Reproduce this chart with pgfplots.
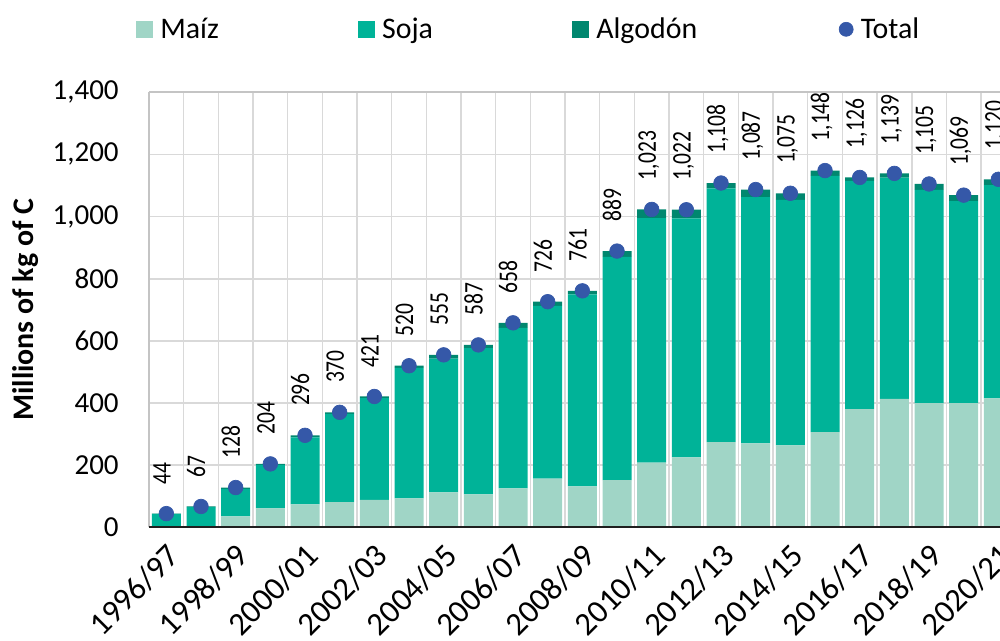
\documentclass[border=0pt]{standalone}
\usepackage{pgfplots}
\pgfplotsset{compat=1.18}
\usepackage{pgfplotstable}
\usepackage{fontspec}
\setmainfont{Carlito}
\definecolor{maiz}{HTML}{A0D5C6}
\definecolor{soja}{HTML}{00B398}
\definecolor{algodon}{HTML}{00876F}
\definecolor{totalc}{HTML}{3558A8}
\definecolor{gridc}{HTML}{D9D9D9}
\definecolor{framec}{HTML}{C4C4C4}

\pgfplotstableread{
x maiz soja algodon total
0 0 43 1 44
1 0 65 2 67
2 35 89 4 128
3 61 140 3 204
4 74 215 7 296
5 81 284 5 370
6 88 328 5 421
7 93 420 7 520
8 112 431 12 555
9 106 471 10 587
10 125 517 16 658
11 157 556 13 726
12 132 618 11 761
13 152 718 19 889
14 208 787 28 1023
15 225 769 28 1022
16 274 817 17 1108
17 270 793 24 1087
18 264 790 21 1075
19 306 825 17 1148
20 380 735 11 1126
21 413 712 14 1139
22 400 686 19 1105
23 400 650 19 1069
24 415 686 19 1120
}\datatable

\begin{document}
\begin{tikzpicture}
\begin{axis}[
  at={(2.98cm,2.274cm)}, anchor=south west,
  scale only axis, width=17.334cm, height=8.7cm,
  xmin=-0.5, xmax=24.5, ymin=0, ymax=1400,
  ybar stacked, bar width=0.58cm,
  axis lines=left,
  x axis line style={draw=none, -},
  y axis line style={color=framec, line width=0.054cm, -},
  ytick={0,200,...,1400},
  xtick={0,2,...,24},
  xticklabels={1996/97,1998/99,2000/01,2002/03,2004/05,2006/07,2008/09,2010/11,2012/13,2014/15,2016/17,2018/19,2020/21},
  minor xtick={0.5,1.5,...,23.5},
  xminorgrids=true, ymajorgrids=true, xmajorgrids=false,
  grid style={color=gridc, line width=0.032cm},
  minor grid style={color=gridc, line width=0.032cm},
  major tick length=0pt, minor tick length=0pt,
  tick style={draw=none},
  /pgf/number format/1000 sep={,},
  /pgf/number format/assume math mode=true,
  tick label style={font=\fontsize{16.5}{19}\selectfont},
  yticklabel style={inner sep=0pt, anchor=east, xshift=-0.6cm},
  xticklabel style={xshift=-0.02cm, yshift=-0.29cm, rotate=45, anchor=north east, inner sep=0pt, font=\fontsize{18.5}{21}\selectfont},
  ylabel={\textbf{Millions of kg of C}},
  every axis y label/.style={at={(axis description cs:-0.1338,0.5)}, rotate=90, anchor=base, font=\fontsize{17}{20}\selectfont},
  legend columns=4,
  legend cell align=left,
  legend style={at={(-0.01523,1.1448)}, anchor=west, draw=none, fill=none, inner sep=0pt,
    font=\fontsize{17}{20}\selectfont,
    /tikz/every odd column/.append style={column sep=0.074cm}},
  after end axis/.code={\draw[color=framec, line width=0.04cm] (rel axis cs:0,1) -- (rel axis cs:1,1);},
]
\addplot[fill=maiz, draw=none, legend image code/.code={\fill[maiz] (0cm,-0.17cm) rectangle (0.34cm,0.17cm);}] table[x=x,y=maiz]{\datatable};
\addlegendentry{\makebox[3.88cm][l]{Maíz}}
\addplot[fill=soja, draw=none, legend image code/.code={\fill[soja] (0cm,-0.17cm) rectangle (0.34cm,0.17cm);}] table[x=x,y=soja]{\datatable};
\addlegendentry{\makebox[3.73cm][l]{Soja}}
\addplot[fill=algodon, draw=none, legend image code/.code={\fill[algodon] (0cm,-0.17cm) rectangle (0.34cm,0.17cm);}] table[x=x,y=algodon]{\datatable};
\addlegendentry{\makebox[4.78cm][l]{Algodón}}
\addlegendimage{legend image code/.code={\fill[totalc] (0.14cm,0cm) circle (0.14cm);}}
\addlegendentry{Total}
\end{axis}
\begin{axis}[
  at={(2.98cm,2.274cm)}, anchor=south west,
  scale only axis, width=17.334cm, height=8.7cm,
  xmin=-0.5, xmax=24.5, ymin=0, ymax=1400,
  axis lines=none, clip=false,
  /pgf/number format/1000 sep={,},
  /pgf/number format/assume math mode=true,
  nodes near coords={\scalebox{0.8}[1]{\pgfmathprintnumber{\pgfplotspointmeta}}},
  nodes near coords style={font=\fontsize{15.3}{18}\selectfont, text=black, anchor=mid west, rotate=90, inner sep=0pt, xshift=0.58cm},
  after end axis/.code={\draw[color=black!88, line width=0.04cm] (rel axis cs:0,0) -- (rel axis cs:1,0);},
]
\addplot[only marks, mark=*, mark size=0.146cm, color=totalc, point meta=y] table[x=x,y=total]{\datatable};
\end{axis}
\pgfresetboundingbox
\path[use as bounding box] (0,0) rectangle (20cm,12.82cm);
\end{tikzpicture}
\end{document}
